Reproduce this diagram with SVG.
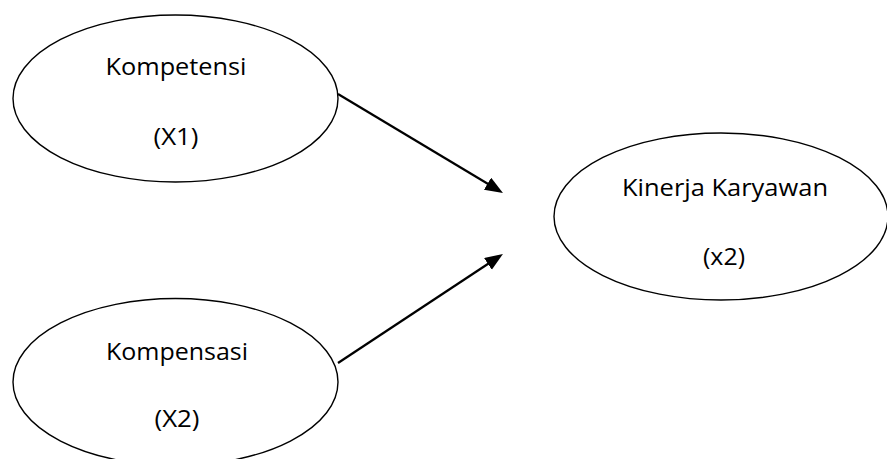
<svg xmlns="http://www.w3.org/2000/svg" width="887" height="459" viewBox="0 0 887 459">
<style>
.node ellipse{fill:#fff;stroke:#000;stroke-width:1.4}
.node text{font-family:"Open Sans","Liberation Sans",sans-serif;font-size:24.5px;fill:#000;text-anchor:middle}
.edge{stroke:#000;stroke-width:2.2;fill:none;marker-end:url(#arr)}
</style>
<defs>
<marker id="arr" markerUnits="userSpaceOnUse" markerWidth="19" markerHeight="15" refX="8" refY="7" orient="auto" viewBox="0 0 19 15">
<path d="M0,0 L18,7 L0,14 z" fill="#000"/>
</marker>
</defs>
<rect width="887" height="459" fill="#fff"/>
<g id="n1" class="node">
<ellipse cx="175.5" cy="98.5" rx="162.5" ry="83.5"/>
<text x="176" y="75" textLength="141" lengthAdjust="spacingAndGlyphs">Kompetensi</text>
<text x="176" y="145" textLength="45" lengthAdjust="spacingAndGlyphs">(X1)</text>
</g>
<g id="n2" class="node">
<ellipse cx="175.5" cy="382" rx="162.5" ry="83.5"/>
<text x="177" y="360" textLength="142" lengthAdjust="spacingAndGlyphs">Kompensasi</text>
<text x="177" y="427" textLength="45" lengthAdjust="spacingAndGlyphs">(X2)</text>
</g>
<g id="n3" class="node">
<ellipse cx="721" cy="216.5" rx="167" ry="83.5"/>
<text x="725" y="196" textLength="206" lengthAdjust="spacingAndGlyphs">Kinerja Karyawan</text>
<text x="724" y="265" textLength="42" lengthAdjust="spacingAndGlyphs">(x2)</text>
</g>
<g id="edges">
<line class="edge" x1="338" y1="94" x2="494.4" y2="187.8"/>
<line class="edge" x1="338" y1="363" x2="494.6" y2="259.5"/>
</g>
</svg>
